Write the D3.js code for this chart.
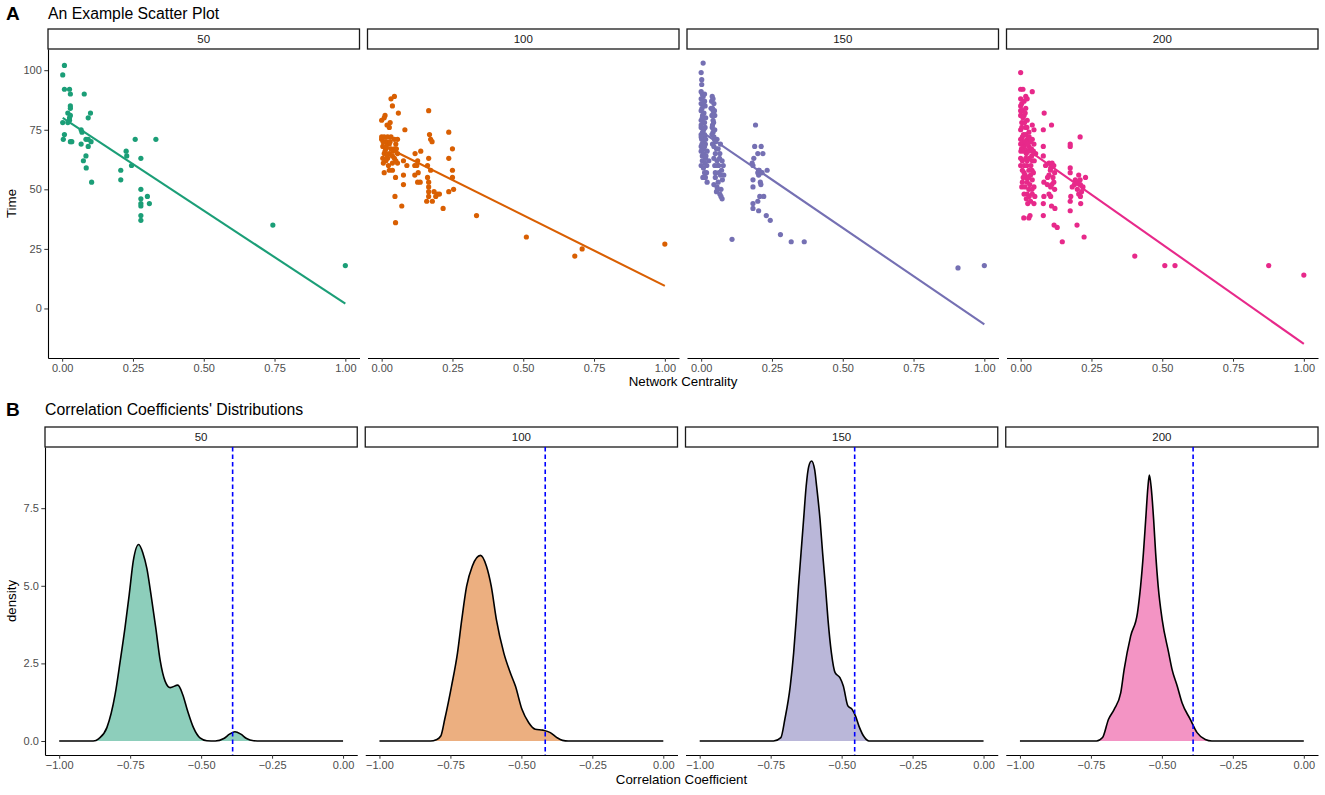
<!DOCTYPE html>
<html>
<head>
<meta charset="utf-8">
<script src="https://cdn.jsdelivr.net/npm/d3@7"></script>
<style>
  body { margin: 0; background: #fff; }
  svg { font-family: "Liberation Sans", Arial, sans-serif; }
  .tick text { fill: #4d4d4d; font-size: 11px; }
  .tick line { stroke: #333; }
  .domain { stroke: #000; }
</style>
</head>
<body>
<svg id="chart" width="1325" height="795"></svg>
<script>
// facet labels
const facets = ["50", "100", "150", "200"];

// scatter points [network centrality, time]
const pts50 = [
  [0.008, 102], [0.002, 98], [0.008, 92], [0.026, 92], [0.029, 90], [0.078, 90],
  [0.029, 85], [0.029, 84], [0.02, 82], [0.029, 81], [0.1, 82], [0.092, 80],
  [0.026, 80], [0.026, 79], [0.002, 78], [0.02, 78], [0.067, 75], [0.07, 74],
  [0.008, 73], [0.004, 71], [0.029, 70], [0.034, 70], [0.084, 71], [0.092, 71],
  [0.102, 70], [0.067, 69], [0.092, 68], [0.258, 71], [0.331, 71], [0.226, 66],
  [0.228, 64], [0.084, 64], [0.278, 63], [0.075, 62], [0.245, 60], [0.085, 59],
  [0.207, 58], [0.207, 54], [0.104, 53], [0.278, 50], [0.301, 47], [0.278, 46],
  [0.308, 44], [0.278, 44], [0.278, 43], [0.278, 39], [0.278, 37], [0.744, 35],
  [1.0, 18]
];
const pts100 = [
  [0.045, 89], [0.033, 88], [0.038, 85], [0.059, 82], [0.166, 83], [0.0, 79],
  [0.012, 81], [0.009, 80], [0.019, 77], [0.03, 78], [0.027, 76], [0.082, 75],
  [0.237, 74], [0.169, 73], [0.173, 71], [0.178, 70], [0.0, 72], [0.009, 72],
  [0.021, 72], [0.033, 72], [0.0, 71], [0.015, 70], [0.027, 69], [0.045, 71],
  [0.056, 71], [0.05, 69], [0.004, 68], [0.015, 67], [0.033, 67], [0.045, 67],
  [0.009, 65], [0.027, 65], [0.038, 64], [0.056, 65], [0.004, 63], [0.021, 63],
  [0.045, 63], [0.038, 61], [0.056, 61], [0.015, 62], [0.25, 67], [0.138, 66],
  [0.118, 65], [0.166, 63], [0.237, 63], [0.127, 62], [0.077, 62], [0.089, 60],
  [0.117, 60], [0.124, 60], [0.162, 60], [0.173, 58], [0.25, 58], [0.009, 57],
  [0.027, 58], [0.038, 58], [0.129, 57], [0.077, 56], [0.117, 56], [0.049, 55],
  [0.25, 55], [0.162, 55], [0.127, 53], [0.136, 53], [0.166, 53], [0.077, 52],
  [0.166, 51], [0.254, 50], [0.237, 49], [0.166, 49], [0.185, 49], [0.197, 48],
  [0.204, 48], [0.047, 47], [0.166, 47], [0.191, 47], [0.159, 45], [0.179, 45],
  [0.071, 43], [0.217, 42], [0.335, 39], [0.049, 36], [0.511, 30], [0.708, 25],
  [0.682, 22], [1.0, 27], [0.005, 70], [0.012, 66], [0.02, 64], [0.03, 70],
  [0.04, 66], [0.05, 62], [0.024, 60], [0.006, 61], [0.016, 68], [0.052, 67]
];
const pts150 = [
  [0.007, 103], [0.0, 99], [0.002, 96], [0.002, 94], [0.0, 88], [0.007, 89],
  [0.012, 87], [0.0, 86], [0.039, 89], [0.042, 88], [0.042, 83], [0.047, 83],
  [0.035, 84], [0.0, 83], [0.005, 81], [0.0, 79], [0.007, 78], [0.0, 76],
  [0.009, 75], [0.0, 73], [0.012, 72], [0.002, 71], [0.015, 69], [0.0, 68],
  [0.009, 67], [0.021, 66], [0.004, 64], [0.015, 63], [0.027, 62], [0.012, 57],
  [0.019, 57], [0.021, 53], [0.042, 79], [0.039, 76], [0.042, 74], [0.047, 71],
  [0.056, 71], [0.068, 69], [0.045, 68], [0.054, 67], [0.066, 65], [0.045, 63],
  [0.056, 62], [0.074, 62], [0.048, 60], [0.062, 60], [0.078, 60], [0.05, 57],
  [0.068, 56], [0.08, 56], [0.045, 52], [0.056, 51], [0.054, 49], [0.066, 48],
  [0.07, 47], [0.074, 46], [0.192, 77], [0.189, 68], [0.212, 68], [0.2, 65],
  [0.218, 65], [0.186, 63], [0.18, 61], [0.183, 60], [0.203, 58], [0.215, 57],
  [0.233, 58], [0.203, 56], [0.209, 53], [0.211, 52], [0.183, 54], [0.183, 51],
  [0.207, 47], [0.221, 47], [0.2, 45], [0.183, 44], [0.183, 42], [0.203, 41],
  [0.23, 39], [0.244, 37], [0.28, 31], [0.318, 28], [0.364, 28], [0.109, 29],
  [0.907, 17], [1.0, 18],
  [0.004, 90], [0.012, 90], [0.0, 91], [0.008, 86], [0.014, 85], [0.003, 84],
  [0.01, 82], [0.016, 80], [0.004, 80], [0.012, 78], [0.0, 77], [0.014, 76],
  [0.005, 74], [0.012, 73], [0.0, 72], [0.008, 70], [0.016, 71], [0.003, 69],
  [0.012, 68], [0.0, 66], [0.009, 65], [0.017, 64], [0.004, 62], [0.013, 61],
  [0.0, 60], [0.02, 60], [0.008, 59], [0.015, 55], [0.006, 55],
  [0.037, 87], [0.045, 86], [0.04, 84], [0.048, 81], [0.038, 81], [0.044, 78],
  [0.04, 77], [0.048, 75], [0.038, 73], [0.045, 72], [0.05, 70], [0.04, 69],
  [0.06, 67], [0.05, 65], [0.065, 63], [0.058, 60], [0.072, 58], [0.063, 57],
  [0.075, 54], [0.06, 53], [0.05, 55], [0.07, 50], [0.058, 50],
  [0.205, 58], [0.212, 57], [0.2, 57]
];
const pts200 = [
  [0.0, 99], [0.0, 92], [0.008, 92], [0.018, 89], [0.041, 91], [0.023, 88],
  [0.0, 85], [0.006, 83], [0.018, 84], [0.0, 81], [0.012, 81], [0.023, 79],
  [0.041, 77], [0.004, 78], [0.0, 75], [0.018, 76], [0.029, 74], [0.047, 75],
  [0.006, 72], [0.023, 71], [0.041, 71], [0.0, 69], [0.012, 68], [0.029, 68],
  [0.047, 69], [0.001, 66], [0.02, 65], [0.039, 64], [0.053, 65], [0.006, 62],
  [0.023, 62], [0.041, 62], [0.0, 60], [0.029, 58], [0.012, 57], [0.02, 55],
  [0.035, 56], [0.006, 53], [0.023, 53], [0.041, 54], [0.004, 51], [0.029, 50],
  [0.047, 51], [0.023, 48], [0.041, 48], [0.02, 46], [0.047, 44], [0.011, 38],
  [0.029, 38], [0.033, 39], [0.083, 82], [0.109, 77], [0.08, 75], [0.21, 72],
  [0.08, 68], [0.175, 69], [0.175, 68], [0.08, 64], [0.1, 61], [0.111, 61],
  [0.088, 60], [0.106, 59], [0.117, 60], [0.175, 59], [0.175, 57], [0.1, 56],
  [0.114, 55], [0.205, 56], [0.229, 55], [0.193, 54], [0.082, 53], [0.094, 52],
  [0.106, 51], [0.117, 53], [0.182, 51], [0.2, 50], [0.211, 52], [0.22, 51],
  [0.205, 48], [0.082, 47], [0.106, 47], [0.177, 47], [0.211, 47], [0.08, 44],
  [0.109, 43], [0.121, 42], [0.175, 45], [0.212, 44], [0.175, 41], [0.08, 39],
  [0.118, 35], [0.129, 34], [0.199, 35], [0.224, 30], [0.147, 28], [0.403, 22],
  [0.509, 18], [0.545, 18], [0.876, 18], [1.0, 14],
  [0.0, 88], [0.004, 86], [0.012, 87], [0.0, 83], [0.008, 80], [0.016, 82],
  [0.004, 76], [0.014, 78], [0.022, 76], [0.03, 72], [0.01, 73], [0.018, 73],
  [0.035, 70], [0.0, 71], [0.008, 70], [0.016, 70], [0.024, 69], [0.038, 67],
  [0.045, 66], [0.003, 67], [0.012, 66], [0.027, 66], [0.018, 63], [0.03, 63],
  [0.048, 62], [0.0, 63], [0.012, 60], [0.022, 60], [0.036, 60], [0.006, 58],
  [0.04, 58], [0.016, 56], [0.028, 55], [0.045, 57], [0.009, 55], [0.032, 52],
  [0.015, 51], [0.04, 50], [0.03, 47], [0.012, 48], [0.035, 45], [0.05, 47],
  [0.025, 44], [0.105, 58], [0.12, 57], [0.095, 55], [0.11, 52], [0.12, 50],
  [0.1, 48], [0.2, 53], [0.21, 54], [0.19, 52], [0.215, 49]
];

// fitted lines (start, end)
const fit50 = [[0.002, 80], [1.0, 2]];
const fit100 = [[0.0, 68.7], [1.0, 9.5]];
const fit150 = [[0.0, 74.3], [1.0, -6.7]];
const fit200 = [[0.0, 68.7], [1.0, -14.9]];

// density curves [correlation coefficient, density]
const dens50 = [
  [-1, 0], [-0.88, 0], [-0.86, 0.08], [-0.832, 0.43], [-0.803, 1.5], [-0.785, 2.58],
  [-0.768, 3.66], [-0.753, 4.74], [-0.739, 5.8], [-0.72, 6.33], [-0.705, 6.05],
  [-0.691, 5.55], [-0.677, 4.74], [-0.66, 3.66], [-0.644, 2.58], [-0.627, 1.93],
  [-0.609, 1.72], [-0.582, 1.8], [-0.565, 1.5], [-0.547, 0.95], [-0.527, 0.43],
  [-0.504, 0.1], [-0.48, 0.01], [-0.45, 0], [-0.42, 0.08], [-0.4, 0.22],
  [-0.381, 0.3], [-0.36, 0.22], [-0.34, 0.08], [-0.315, 0.01], [-0.29, 0], [0, 0]
];
const dens100 = [
  [-1, 0], [-0.82, 0], [-0.8, 0.04], [-0.784, 0.16], [-0.77, 0.7], [-0.746, 1.77],
  [-0.725, 2.84], [-0.71, 3.91], [-0.693, 4.98], [-0.673, 5.63], [-0.644, 5.98],
  [-0.623, 5.63], [-0.606, 4.98], [-0.588, 3.91], [-0.562, 2.84], [-0.539, 2.2],
  [-0.521, 1.77], [-0.498, 1.02], [-0.474, 0.59], [-0.451, 0.38], [-0.424, 0.35],
  [-0.398, 0.27], [-0.375, 0.11], [-0.355, 0.02], [-0.335, 0], [0, 0]
];
const dens150 = [
  [-1, 0], [-0.74, 0], [-0.714, 0.11], [-0.7, 0.7], [-0.681, 1.77], [-0.669, 2.84],
  [-0.66, 3.91], [-0.652, 4.98], [-0.643, 6.06], [-0.634, 7.13], [-0.625, 8.2],
  [-0.616, 8.84], [-0.606, 9.02], [-0.595, 8.74], [-0.588, 8.2], [-0.576, 7.13],
  [-0.567, 6.06], [-0.557, 4.98], [-0.548, 3.91], [-0.536, 2.84], [-0.523, 2.2],
  [-0.506, 2.04], [-0.494, 1.77], [-0.478, 1.13], [-0.463, 1.02], [-0.451, 0.8],
  [-0.439, 0.48], [-0.419, 0.11], [-0.404, 0], [0, 0]
];
const dens200 = [
  [-1, 0], [-0.73, 0], [-0.709, 0.11], [-0.688, 0.7], [-0.668, 1.02], [-0.645, 1.55],
  [-0.633, 2.3], [-0.61, 3.38], [-0.586, 4.13], [-0.575, 4.98], [-0.565, 6.06],
  [-0.557, 7.13], [-0.549, 8.2], [-0.544, 8.57], [-0.538, 8.2], [-0.529, 7.13],
  [-0.522, 6.06], [-0.513, 4.98], [-0.499, 3.91], [-0.476, 2.84], [-0.464, 2.3],
  [-0.446, 1.77], [-0.429, 1.23], [-0.4, 0.7], [-0.376, 0.27], [-0.347, 0.05],
  [-0.324, 0], [0, 0]
];

// observed coefficient per facet (dashed line)
const observed = [-0.389, -0.416, -0.454, -0.39];

// tick values
const xTicksA = [0, 0.25, 0.5, 0.75, 1];
const yTicksA = [0, 25, 50, 75, 100];
const xTicksB = [-1, -0.75, -0.5, -0.25, 0];
const yTicksB = [0, 2.5, 5, 7.5];

const scatterData = [pts50, pts100, pts150, pts200];
const fitData = [fit50, fit100, fit150, fit200];
const densData = [dens50, dens100, dens150, dens200];

// style config
const config = {
  colors: ["#1B9E77", "#D95F02", "#7570B3", "#E7298A"],
  right: 1318,
  gap: 8,
  strip_h: 20,
  tick_size: 3.7,
};

const svg = d3.select("#chart");

// expand a domain by 5% like ggplot does
function expand(ext) {
  var pad = (ext[1] - ext[0]) * 0.05;
  return [ext[0] - pad, ext[1] + pad];
}

// draws a row of facet panels, returns per-facet scales
function drawFacets(g, opts) {
  var w = (config.right - opts.left - 3 * config.gap) / 4;
  var out = [];
  facets.forEach(function (f, i) {
    var x0 = opts.left + i * (w + config.gap);
    var x = d3.scaleLinear().domain(opts.xDomain).range([x0, x0 + w]);
    var y = d3.scaleLinear().domain(opts.yDomain).range([opts.bottom, opts.top]);

    // strip
    g.append("rect")
      .attr("x", x0)
      .attr("y", opts.top - config.strip_h)
      .attr("width", w)
      .attr("height", config.strip_h)
      .attr("fill", "#fff")
      .attr("stroke", "#1a1a1a")
      .attr("stroke-width", 1.3);
    g.append("text")
      .attr("x", x0 + w / 2)
      .attr("y", opts.top - config.strip_h / 2 + 4)
      .attr("text-anchor", "middle")
      .attr("font-size", "11.5px")
      .attr("fill", "#1a1a1a")
      .text(f);

    // x axis
    g.append("g")
      .attr("transform", "translate(0," + opts.bottom + ")")
      .call(
        d3.axisBottom(x)
          .tickValues(opts.xTicks)
          .tickFormat(opts.xFormat)
          .tickSize(config.tick_size)
          .tickSizeOuter(0)
          .tickPadding(2.5)
      )
      .call(function (a) {
        a.select(".domain").attr("stroke-width", 1.1);
      });

    // y axis only on first facet
    if (i == 0) {
      g.append("g")
        .attr("transform", "translate(" + x0 + ",0)")
        .call(
          d3.axisLeft(y)
            .tickValues(opts.yTicks)
            .tickFormat(opts.yFormat)
            .tickSize(config.tick_size)
            .tickSizeOuter(0)
            .tickPadding(2.5)
        )
        .call(function (a) {
          a.select(".domain").attr("stroke-width", 1.1);
        });
    }
    out.push({ x: x, y: y });
  });
  return out;
}

/* PANEL A: scatter */
var gA = svg.append("g").attr("class", "panelA");

var allX = [], allY = [];
scatterData.concat(fitData).forEach(function (arr) {
  arr.forEach(function (d) {
    allX.push(d[0]);
    allY.push(d[1]);
  });
});

var scalesA = drawFacets(gA, {
  left: 48,
  top: 49,
  bottom: 358,
  xDomain: expand(d3.extent(allX)),
  yDomain: expand(d3.extent(allY)),
  xTicks: xTicksA,
  yTicks: yTicksA,
  xFormat: d3.format(".2f"),
  yFormat: d3.format("d"),
});

scalesA.forEach(function (s, i) {
  var line = d3.line()
    .x(function (d) { return s.x(d[0]); })
    .y(function (d) { return s.y(d[1]); });

  gA.append("g")
    .selectAll(null)
    .data(scatterData[i])
    .enter()
    .append("circle")
    .attr("cx", function (d) { return s.x(d[0]); })
    .attr("cy", function (d) { return s.y(d[1]); })
    .attr("r", 2.6)
    .style("fill", config.colors[i]);

  gA.append("path")
    .datum(fitData[i])
    .attr("d", line)
    .attr("fill", "none")
    .attr("stroke", config.colors[i])
    .attr("stroke-width", 2.1);
});

/* PANEL B: densities */
var gB = svg.append("g").attr("class", "panelB");

var maxDens = d3.max(densData, function (arr) {
  return d3.max(arr, function (d) { return d[1]; });
});

var scalesB = drawFacets(gB, {
  left: 45,
  top: 447,
  bottom: 755,
  xDomain: expand([-1, 0]),
  yDomain: expand([0, maxDens]),
  xTicks: xTicksB,
  yTicks: yTicksB,
  xFormat: d3.format(".2f"),
  yFormat: d3.format(".1f"),
});

scalesB.forEach(function (s, i) {
  var area = d3.area()
    .curve(d3.curveMonotoneX)
    .x(function (d) { return s.x(d[0]); })
    .y0(s.y(0))
    .y1(function (d) { return s.y(d[1]); });
  var line = d3.line()
    .curve(d3.curveMonotoneX)
    .x(function (d) { return s.x(d[0]); })
    .y(function (d) { return s.y(d[1]); });

  gB.append("path")
    .datum(densData[i])
    .attr("d", area)
    .attr("fill", config.colors[i])
    .attr("fill-opacity", 0.5);

  gB.append("path")
    .datum(densData[i])
    .attr("d", line)
    .attr("fill", "none")
    .attr("stroke", "#000")
    .attr("stroke-width", 1.6);

  // observed coefficient
  gB.append("line")
    .attr("x1", s.x(observed[i]))
    .attr("x2", s.x(observed[i]))
    .attr("y1", s.y.range()[1])
    .attr("y2", s.y.range()[0])
    .attr("stroke", "#0000ff")
    .attr("stroke-width", 1.6)
    .attr("stroke-dasharray", "4.5,3");
});

// titles and labels
function label(x, y, txt, size, opts) {
  opts = opts || {};
  var t = svg.append("text")
    .attr("x", x)
    .attr("y", y)
    .attr("font-size", size)
    .attr("fill", "#000")
    .attr("text-anchor", opts.anchor || "start")
    .attr("font-weight", opts.bold ? "bold" : "normal")
    .text(txt);
  if (opts.rotate) t.attr("transform", "rotate(-90," + x + "," + y + ")");
  return t;
}

label(6, 20, "A", "19px", { bold: true });
label(48, 19, "An Example Scatter Plot", "15.8px");
label(683, 386, "Network Centrality", "13.3px", { anchor: "middle" });
label(16, 203.5, "Time", "13.3px", { anchor: "middle", rotate: true });

label(6, 416, "B", "19px", { bold: true });
label(45, 415, "Correlation Coefficients' Distributions", "15.8px");
label(681.5, 784, "Correlation Coefficient", "13.3px", { anchor: "middle" });
label(16, 601, "density", "13.3px", { anchor: "middle", rotate: true });
</script>
</body>
</html>
